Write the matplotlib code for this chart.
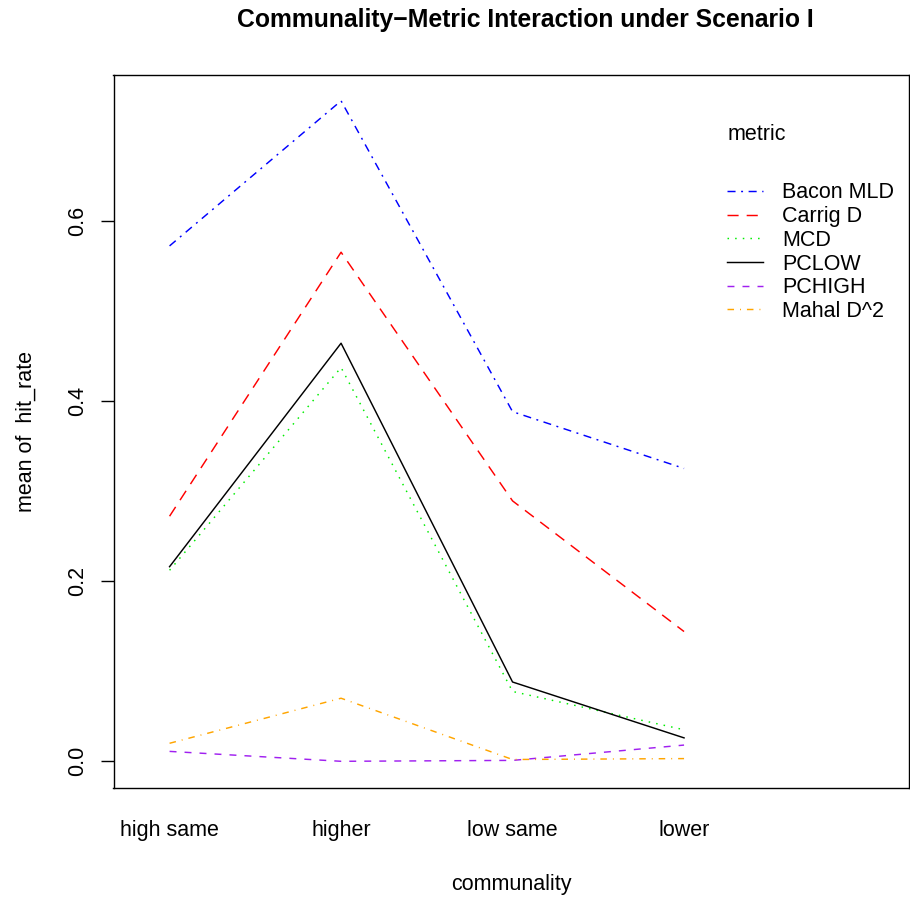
import matplotlib
matplotlib.use("Agg")
import matplotlib.pyplot as plt

plt.rcParams['font.family'] = ['Liberation Sans', 'DejaVu Sans']
plt.rcParams['lines.scale_dashes'] = False

categories = ["high same", "higher", "low same", "lower"]
metrics = ["Bacon MLD", "Carrig D", "MCD", "PCLOW", "PCHIGH", "Mahal D^2"]
bacon_mld = [0.572, 0.733, 0.388, 0.325]
carrig_d = [0.272, 0.565, 0.289, 0.144]
mcd = [0.212, 0.437, 0.0775, 0.035]
pclow = [0.216, 0.464, 0.088, 0.026]
pchigh = [0.011, 0.0, 0.001, 0.018]
mahal_d2 = [0.020, 0.070, 0.002, 0.003]
series = [bacon_mld, carrig_d, mcd, pclow, pchigh, mahal_d2]

colors = ["#0000FF", "#FF0000", "#00EE00", "#000000", "#A020F0", "#FFA500"]
dashes = [(0, (5.8, 4.0, 1.4, 4.0)),
          (0, (8.0, 5.8)),
          (0, (1.1, 4.4)),
          "-",
          (0, (5.0, 5.8)),
          (0, (4.7, 4.3, 0.7, 4.3))]

W, H = 910, 899
fig = plt.figure(figsize=(W / 100, H / 100), dpi=100)
L, R, T, B = 113.5, 908.7, 74.7, 787.7
ax = fig.add_axes([L / W, 1 - B / H, (R - L) / W, (B - T) / H])

x = list(range(1, len(categories) + 1))
handles = []
for vals, name, c, ls in zip(series, metrics, colors, dashes):
    h, = ax.plot(x, vals, color=c, linestyle=ls, lw=1.05, label=name)
    handles.append(h)

ax.set_xlim(0.673, 5.31)
ax.set_ylim(-0.0293, 0.762)
ax.set_xticks(x)
ax.set_xticklabels(categories)
ax.set_yticks([0.0, 0.2, 0.4, 0.6])
ax.set_yticklabels(["0.0", "0.2", "0.4", "0.6"])
ax.tick_params(axis='x', length=0, pad=23, labelsize=15.5)
ax.tick_params(axis='y', length=9.7, width=1.0, pad=8.5, labelsize=15.5)
for tl in ax.get_yticklabels():
    tl.set_rotation(90)
    tl.set_va('center')
for s in ax.spines.values():
    s.set_linewidth(1.0)

ax.set_xlabel("communality", fontsize=15.5, labelpad=24)
ax.set_ylabel("mean of  hit_rate", fontsize=15.5, labelpad=22)
fig.text(525 / W, 1 - 20 / H,
         "Communality\u2212Metric Interaction under Scenario I",
         ha='center', va='center', fontsize=17.8, fontweight='bold')

ax.text((728 - L) / (R - L), (B - 135) / (B - T), "metric",
        transform=ax.transAxes, ha='left', va='center', fontsize=15.5)
ax.legend(handles=handles, loc='upper left',
          bbox_to_anchor=((727 - L) / (R - L), (B - 182.5) / (B - T)),
          frameon=False, fontsize=15.5, borderaxespad=0, borderpad=0,
          handlelength=1.67, handletextpad=0.88, labelspacing=0.125)

fig.savefig("out.png", dpi=100)
